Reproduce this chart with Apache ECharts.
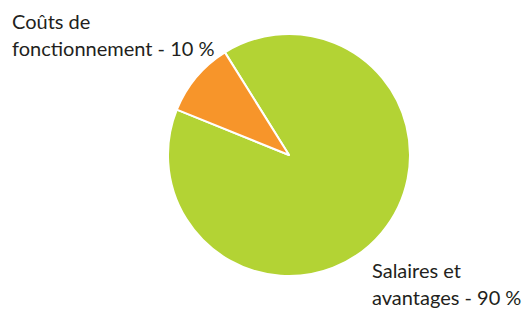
<!DOCTYPE html>
<html>
<head>
<meta charset="utf-8">
<script src="https://cdn.jsdelivr.net/npm/echarts@6/dist/echarts.min.js"></script>
<style>
  html, body { margin: 0; padding: 0; background: #fff; }
  #chart { width: 522px; height: 311px; }
</style>
</head>
<body>
<div id="chart"></div>
<script>
(function() {
  var names = ['Salaires et\navantages', 'Coûts de\nfonctionnement'];
  var values = [90, 10];
  var colors = ['#b3d334', '#f7952a'];
  // label anchor (top-left) for each slice
  var labelPos = [[372, 256], [12, 7]];

  var chart = echarts.init(document.getElementById('chart'), null, { renderer: 'svg' });
  chart.setOption({
    animation: false,
    series: [{
      type: 'pie',
      center: [289, 155],
      radius: [0, 121],
      startAngle: 122,
      clockwise: true,
      itemStyle: { borderColor: '#fff', borderWidth: 2 },
      data: names.map(function(n, i) {
        return { name: n, value: values[i], itemStyle: { color: colors[i] } };
      }),
      label: {
        show: true,
        color: '#231f20',
        fontFamily: 'Lato',
        fontSize: 20,
        lineHeight: 27,
        overflow: 'none',
        width: 300,
        formatter: function(p) { return p.name + ' - ' + p.value + ' %'; }
      },
      labelLine: { show: false },
      labelLayout: function(params) {
        var p = labelPos[params.dataIndex];
        return { x: p[0], y: p[1], align: 'left', verticalAlign: 'top' };
      }
    }]
  });
})();
</script>
</body>
</html>
